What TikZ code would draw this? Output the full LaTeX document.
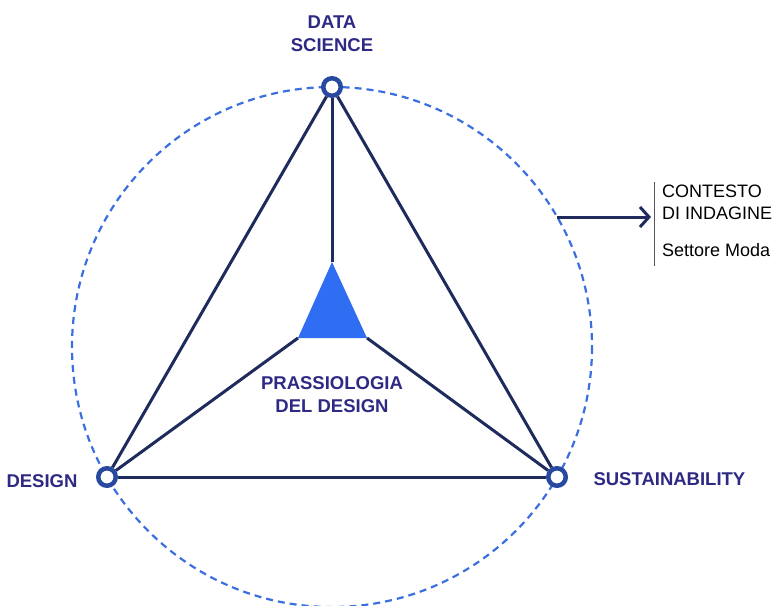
\documentclass[tikz,border=0pt]{standalone}
\usepackage{fontspec}
\setmainfont{Liberation Sans}
\usetikzlibrary{arrows.meta, positioning}
\definecolor{navy}{HTML}{1E2B5C}
\definecolor{ring}{HTML}{2849A0}
\definecolor{indigo}{HTML}{2E2A84}
\definecolor{bright}{HTML}{2F6DF2}
\definecolor{dashblue}{HTML}{3B6FE0}

\begin{document}
\begin{tikzpicture}[
    x=1pt, y=-1pt,
    % gaya untuk simpul sudut
    vertex/.style={circle, draw=ring, line width=4.5pt, fill=white, minimum size=17.5pt, inner sep=0pt},
    lbl/.style={font=\fontsize{18.5}{23}\selectfont\bfseries, text=indigo, align=center},
    edge/.style={draw=navy, line width=3pt},
    arrow/.style={-{Straight Barb[length=9pt, width=20pt, line width=3pt]}, draw=navy, line width=3pt}
]
\useasboundingbox (0,0) rectangle (781,605);

% Lingkaran putus-putus
\draw [dashblue, line width=2.2pt, dash pattern=on 7pt off 5pt] (332,347) circle (260);

% Segitiga tengah
\coordinate (ctop) at (332,262);
\coordinate (cleft) at (298,338);
\coordinate (cright) at (367,338);
\fill [bright] (ctop) -- (cleft) -- (cright) -- cycle;

% Simpul sudut
\node (ds) [vertex] at (332,87) {};
\node (des) [vertex] at (107,477) {};
\node (sus) [vertex] at (557,477) {};

% Garis segitiga luar
\draw [edge] (ds) -- (des);
\draw [edge] (des) -- (sus);
\draw [edge] (sus) -- (ds);

% Garis ke segitiga tengah
\draw [edge] (ds) -- (ctop);
\draw [edge] (des) -- (cleft);
\draw [edge] (sus) -- (cright);

% Label
\node (dslab) [lbl] at (332,34) {DATA\\SCIENCE};
\node (deslab) [lbl, anchor=east] at (81,481) {DESIGN};
\node (suslab) [lbl, anchor=west] at (590,479) {SUSTAINABILITY};
\node (prax) [lbl] at (332,395) {PRASSIOLOGIA\\DEL DESIGN};

% Konteks
\coordinate (arr) at (557,217);
\node (ctx) [anchor=north west, align=left, inner sep=0pt, font=\fontsize{18}{22}\selectfont] at (662,185) {CONTESTO\\DI INDAGINE\\[15pt]Settore Moda};
\draw [arrow] (arr) -- (651,217);
\draw [gray!70!black, line width=0.9pt] (654,182) -- (654,266);

\end{tikzpicture}
\end{document}
